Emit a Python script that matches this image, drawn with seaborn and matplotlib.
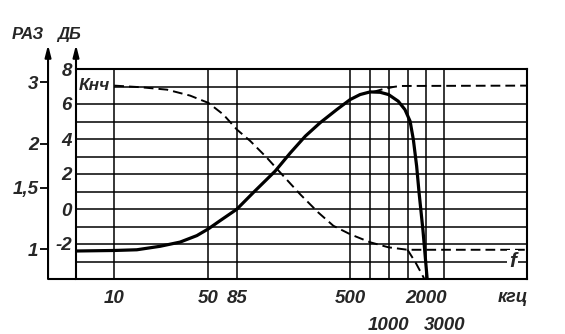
import numpy as np
import pandas as pd
import matplotlib
matplotlib.use("Agg")
import matplotlib.pyplot as plt
import seaborn as sns

# ---------------- data ----------------
freq_ticks = [10, 50, 85, 500, 2000]
freq_tick_labels = ["10", "50", "85", "500", "2000"]
freq_ticks_row2 = [1000, 3000]
freq_tick_labels_row2 = ["1000", "3000"]
freq_extra_grid = [700, 1500]

db_ticks = [-2, 0, 2, 4, 6, 8]
db_tick_labels = ["-2", "0", "2", "4", "6", "8"]
db_minor = [-3, -1, 1, 3, 5]

ratio_ticks = [1, 1.5, 2, 3]
ratio_tick_labels = ["1", "1,5", "2", "3"]

# solid curve (gain, dB)
gain_f = [5.2, 10, 14.7, 21.9, 30.8, 41, 50, 62, 85, 110, 155, 196, 248, 313,
          406, 500, 592, 700, 850, 1000, 1230, 1420, 1560, 1640, 1725, 1790,
          1900, 2040]
gain_db = [-2.40, -2.37, -2.33, -2.13, -1.89, -1.52, -1.13, -0.67, -0.01, 0.94,
           2.17, 3.2, 4.16, 4.93, 5.68, 6.25, 6.54, 6.69, 6.67, 6.54, 6.16,
           5.68, 5.02, 3.97, 2.45, 0.94, -1.21, -4.0]

# dashed curve Кнч (dB)
knch_f = [10, 15.6, 24.6, 36.5, 50, 66, 85, 105, 136, 172, 229, 304, 385, 500,
          700, 1000, 1500, 13000]
knch_db = [7.05, 6.96, 6.82, 6.48, 6.06, 5.4, 4.54, 3.88, 2.93, 1.98, 0.84,
           -0.2, -0.96, -1.44, -1.9, -2.19, -2.33, -2.33]

# dashed branch falling to the axis
dive_f = [1500, 1700, 1910, 1940]
dive_db = [-2.33, -3.07, -3.88, -4.0]

# dashed branch rising from the peak
upper_f = [742, 900, 1100, 1280, 13000]
upper_db = [6.69, 6.85, 6.97, 7.03, 7.05]

# hand-drawn frequency axis: measured spacing of the printed grid (knots)
scale_f = [1, 10, 50, 85, 500, 700, 1000, 1500, 2000, 3000, 1e6]
scale_u = [-20.9, 114, 208.3, 236.7, 350, 370, 388.5, 407.5, 426.3, 444.3, 772.3]

# ---------------- styling ----------------
sns.set_style("white")
plt.rcParams["font.family"] = ["Liberation Sans", "DejaVu Sans"]
plt.rcParams["font.style"] = "italic"
plt.rcParams["font.weight"] = "bold"

log_knots = np.log10(scale_f)


def fwd(f):
    f = np.asarray(f, dtype=float)
    return np.interp(np.log10(np.maximum(f, 1e-12)), log_knots, scale_u)


def inv(u):
    u = np.asarray(u, dtype=float)
    return 10 ** np.interp(u, scale_u, log_knots)


def db_to_ratio(db):
    return 10 ** ((np.asarray(db, dtype=float) + 2.3) / 20)


def ratio_to_db(r):
    r = np.asarray(r, dtype=float)
    return 20 * np.log10(np.maximum(r, 1e-12)) - 2.3


fig = plt.figure(figsize=(5.65, 3.34), dpi=100)
ax = fig.add_axes([76 / 565, 55 / 334, 451 / 565, 210 / 334])
ax.set_xscale("function", functions=(fwd, inv))
ax.set_xlim(5.2, 13000)
ax.set_ylim(-4, 8)

# grid
ax.set_xticks(freq_ticks, labels=freq_tick_labels)
ax.set_xticks(freq_ticks_row2, labels=freq_tick_labels_row2, minor=True)
ax.set_yticks(db_ticks, labels=db_tick_labels)
ax.set_yticks(db_minor, minor=True)
ax.grid(True, which="both", color="black", lw=1.1)
for fx in freq_extra_grid:
    ax.axvline(fx, color="black", lw=1.1, zorder=0.5)
ax.hlines(7, 10, 1100, color="black", lw=1.1, zorder=0.5)
ax.set_axisbelow(True)
ax.tick_params(which="both", length=0)
ax.tick_params(axis="x", which="major", labelsize=13.5, pad=8)
ax.tick_params(axis="x", which="minor", labelsize=13.5, pad=27)
ax.tick_params(axis="y", labelsize=13.5, pad=3)

for s in ["top", "right", "bottom"]:
    ax.spines[s].set_color("black")
    ax.spines[s].set_linewidth(1.5)
ax.spines["left"].set_visible(False)

# curves
df_gain = pd.DataFrame({"f": gain_f, "db": gain_db})
df_knch = pd.DataFrame({"f": knch_f, "db": knch_db})
df_dive = pd.DataFrame({"f": dive_f, "db": dive_db})
df_up = pd.DataFrame({"f": upper_f, "db": upper_db})

sns.lineplot(data=df_gain, x="f", y="db", ax=ax, color="black", lw=2.3,
             estimator=None, sort=False, zorder=3)
for d in (df_knch, df_dive, df_up):
    sns.lineplot(data=d, x="f", y="db", ax=ax, color="black", lw=1.4,
                 linestyle=(0, (5, 2.6)), estimator=None, sort=False, zorder=3)
ax.set_xlabel("")
ax.set_ylabel("")

# secondary ratio axis
sec = ax.secondary_yaxis(-0.062, functions=(db_to_ratio, ratio_to_db))
sec.set_alignment("left")
sec.set_yticks(ratio_ticks, labels=ratio_tick_labels)
sec.tick_params(axis="y", length=6, width=1.3, pad=1, labelsize=13.5,
                direction="out", color="black")
for s in sec.spines.values():
    s.set_visible(False)

# axis lines with arrows
arrow = dict(arrowstyle="-|>,head_length=0.7,head_width=0.18", lw=1.5,
             color="black", shrinkA=0, shrinkB=0)
for xpos in (0, -0.062):
    ax.annotate("", xy=(xpos, 1.115), xytext=(xpos, 0), xycoords="axes fraction",
                arrowprops=arrow, annotation_clip=False)
ax.plot([-0.062, 0], [0, 0], transform=ax.transAxes, color="black", lw=1.5,
        clip_on=False, solid_capstyle="butt")

# labels
ax.text(-0.106, 1.165, "РАЗ", transform=ax.transAxes, ha="center", va="center",
        fontsize=12)
ax.text(-0.016, 1.165, "ДБ", transform=ax.transAxes, ha="center", va="center",
        fontsize=12)
ax.text(0.969, -0.09, "кгц", transform=ax.transAxes, ha="center", va="center",
        fontsize=13)
ax.text(0.007, 7.05, "Кнч", transform=ax.get_yaxis_transform(), ha="left",
        va="center", fontsize=12.5)
ax.text(0.968, -3, "f", transform=ax.get_yaxis_transform(), ha="center",
        va="center", fontsize=15,
        bbox=dict(facecolor="white", edgecolor="none", pad=1.5))

fig.savefig("out.png", dpi=100)
